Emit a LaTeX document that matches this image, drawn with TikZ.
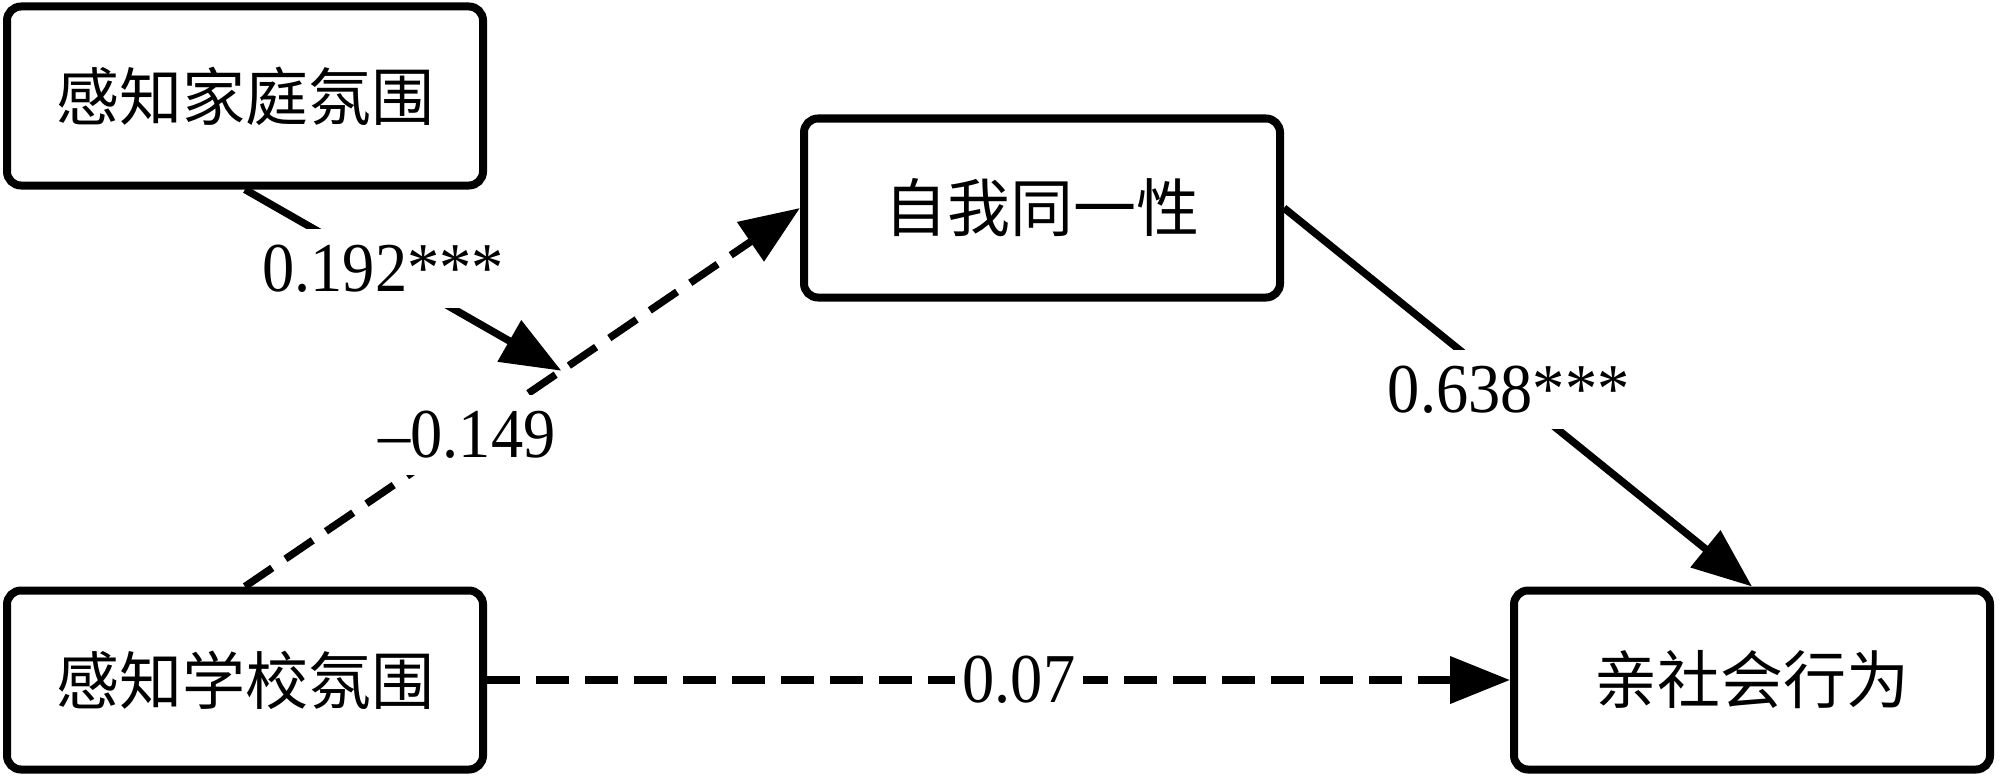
\documentclass[tikz,border=0pt]{standalone}
\usepackage{fontspec}
\setmainfont{Liberation Serif}
\newfontfamily\cjk{Noto Sans CJK SC}
\newfontfamily\numfont{Liberation Serif}[FakeStretch=0.92]
\usetikzlibrary{arrows.meta,calc}
\begin{document}
\begin{tikzpicture}[x=0.5pt,y=-0.5pt,
  box/.style={draw, line width=4pt, rounded corners=7pt, minimum width=238pt,
    minimum height=89.5pt, inner sep=0pt, font=\cjk\fontsize{31.5}{36}\selectfont},
  conn/.style={line width=3.7pt, -{Triangle[length=30pt,width=23pt]}},
  dashline/.style={dash pattern=on 16.5pt off 8pt},
  lab/.style={fill=white, inner xsep=4pt, inner ysep=8pt,
    font=\numfont\fontsize{35}{40}\selectfont}]
\useasboundingbox (0,0) rectangle (2000,781);
\node[box] (A) at (245,96) {感知家庭氛围};
\node[box] (M) at (1042,208) {自我同一性};
\node[box] (B) at (245,680) {感知学校氛围};
\node[box] (Y) at (1752,680) {亲社会行为};
\coordinate (P) at ($(B.north)!0.57!(M.west)$);
\draw[conn,dashline] (B.north) -- (M.west);
\draw[conn] (A.south) -- (P);
\draw[conn] (M.east) -- (Y.north);
\draw[conn,dashline] (B.east) -- (Y.west);
\node[lab] (l1) at ($(A.south)!0.437!(P)$) {0.192***};
\node[lab] (l2) at ($(B.north)!0.40!(M.west)$) {–0.149};
\node[lab] (l3) at ($(M.east)!0.48!(Y.north)$) {0.638***};
\node[lab, inner ysep=4pt] (l4) at ($(B.east)!0.52!(Y.west)$) {0.07};
\end{tikzpicture}
\end{document}
